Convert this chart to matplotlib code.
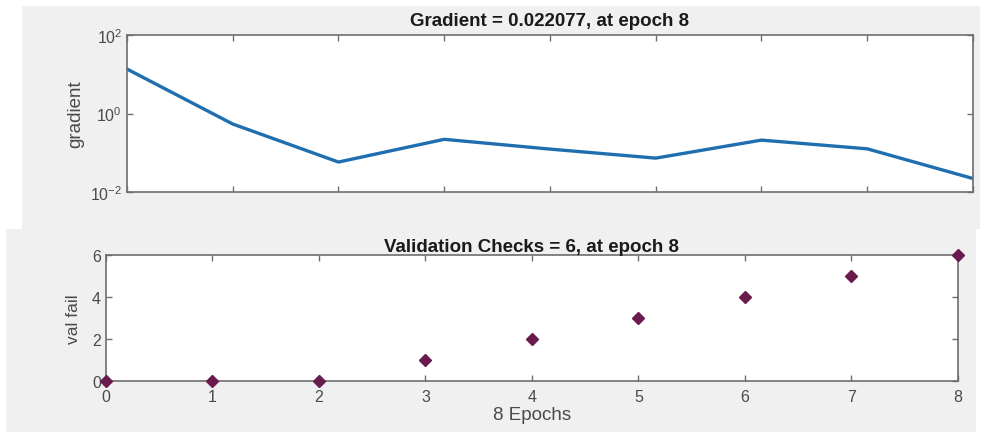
import matplotlib
matplotlib.use('Agg')
import matplotlib.pyplot as plt
from matplotlib.patches import Rectangle
from matplotlib.ticker import FixedLocator, NullLocator

plt.rcParams['font.family'] = ['Liberation Sans', 'DejaVu Sans']
plt.rcParams['mathtext.default'] = 'regular'

epochs = [0, 1, 2, 3, 4, 5, 6, 7, 8]
gradient = [13.6, 0.54, 0.058, 0.22, 0.124, 0.073, 0.21, 0.126, 0.022077]
val_fail = [0, 0, 0, 1, 2, 3, 4, 5, 6]

grad_ticks = [1e-2, 1e0, 1e2]
grad_labels = ['$10^{-2}$', '$10^{0}$', '$10^{2}$']
val_ticks = [0, 2, 4, 6]

line_color = '#1f6fb0'
marker_color = '#6a1b4d'
spine_color = '#6e6e6e'
text_color = '#4a4a4a'
panel_gray = '#f0f0f0'

fig = plt.figure(figsize=(9.82, 4.35), dpi=100)
fig.patch.set_facecolor('white')

# grey panel backgrounds (two stacked screenshots), behind the axes
fig.patches.append(Rectangle((0.0224, 0.4713), 0.9756, 0.5126, transform=fig.transFigure,
                             facecolor=panel_gray, edgecolor='none', zorder=-5))
fig.patches.append(Rectangle((0.0061, 0.0046), 0.9878, 0.4667, transform=fig.transFigure,
                             facecolor=panel_gray, edgecolor='none', zorder=-5))


def style_axes(ax):
    for sp in ax.spines.values():
        sp.set_color(spine_color)
        sp.set_linewidth(1.2)
    ax.tick_params(direction='in', top=True, right=True, length=4,
                   color=spine_color, labelcolor=text_color, labelsize=11.5, width=1)
    ax.tick_params(axis='x', pad=6)


# top panel: gradient
ax1 = fig.add_axes([0.1293, 0.5563, 0.8615, 0.3609])
ax1.plot(epochs, gradient, color=line_color, linewidth=2.4)
ax1.set_yscale('log')
ax1.set_xlim(0, 8)
ax1.set_ylim(1e-2, 1e2)
ax1.yaxis.set_major_locator(FixedLocator(grad_ticks))
ax1.set_yticklabels(grad_labels)
ax1.yaxis.set_minor_locator(NullLocator())
ax1.set_xticks(epochs)
ax1.set_xticklabels([])
ax1.set_ylabel('gradient', fontsize=13.5, color=text_color, labelpad=4)
ax1.set_title('Gradient = 0.022077, at epoch 8', fontsize=13.5, fontweight='bold',
              color='#1a1a1a', pad=7)
style_axes(ax1)

# bottom panel: validation checks
ax2 = fig.add_axes([0.1079, 0.1218, 0.8676, 0.2897])
ax2.plot(epochs, val_fail, linestyle='none', marker='D', markersize=6,
         color=marker_color, clip_on=False, zorder=5)
ax2.set_xlim(0, 8)
ax2.set_ylim(0, 6)
ax2.set_xticks(epochs)
ax2.set_yticks(val_ticks)
ax2.set_xlabel('8 Epochs', fontsize=13.5, color=text_color, labelpad=1)
ax2.set_ylabel('val fail', fontsize=12.5, color=text_color, labelpad=8)
ax2.set_title('Validation Checks = 6, at epoch 8', fontsize=13.5, fontweight='bold',
              color='#1a1a1a', pad=3)
style_axes(ax2)

fig.savefig('out.png', dpi=100, facecolor=fig.get_facecolor())
